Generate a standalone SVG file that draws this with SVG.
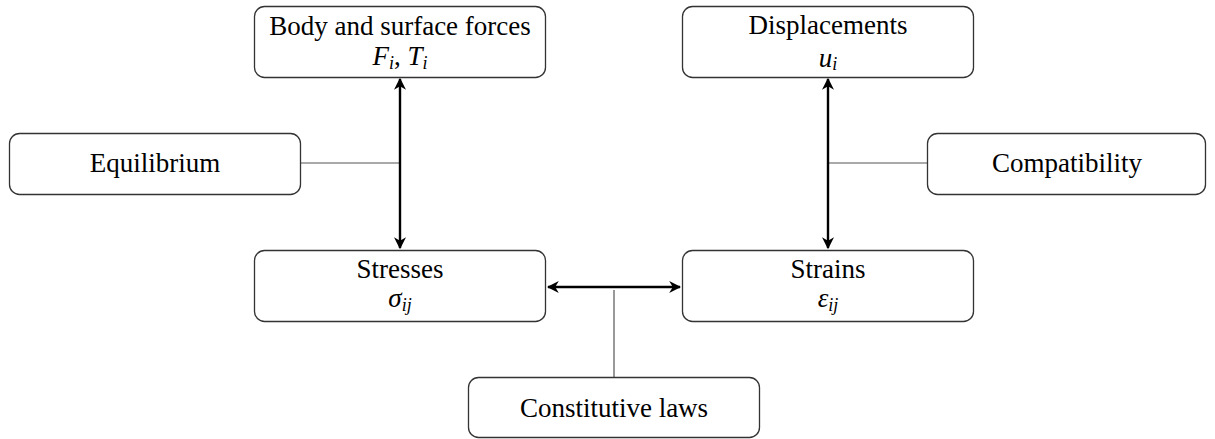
<svg xmlns="http://www.w3.org/2000/svg" width="1215" height="439" viewBox="0 0 1215 439">
<style>
.box{fill:#fff;stroke:#333;stroke-width:1.3}
text{font-family:'Liberation Serif','Times New Roman','DejaVu Serif',serif;font-size:27px;fill:#000;text-anchor:middle}
.m{font-style:italic}
.s{font-size:18px;font-style:italic}
.thin{stroke:#555;stroke-width:1.2;fill:none}
.thick{stroke:#000;stroke-width:2.4;fill:none}
</style>
<defs>
<marker id="ah" viewBox="0 0 10 10" refX="9" refY="5" markerWidth="5" markerHeight="5" orient="auto-start-reverse" markerUnits="strokeWidth">
<path d="M0,0 L10,5 L0,10 L3,5 Z" fill="#000"/>
</marker>
</defs>
<g id="connectors">
<line class="thin" x1="301" y1="163" x2="400" y2="163"/>
<line class="thin" x1="828" y1="163" x2="927" y2="163"/>
<line class="thin" x1="614" y1="290" x2="614" y2="377"/>
<line class="thick" x1="400" y1="79" x2="400" y2="248" marker-start="url(#ah)" marker-end="url(#ah)"/>
<line class="thick" x1="828" y1="79" x2="828" y2="248" marker-start="url(#ah)" marker-end="url(#ah)"/>
<line class="thick" x1="548" y1="287" x2="680" y2="287" marker-start="url(#ah)" marker-end="url(#ah)"/>
</g>
<g id="body">
<rect class="box" x="254.5" y="6.5" width="291" height="71" rx="10"/>
<text x="400" y="35">Body and surface forces</text>
<text x="400" y="65"><tspan class="m">F</tspan><tspan class="s" dy="4">i</tspan><tspan dy="-4">, </tspan><tspan class="m">T</tspan><tspan class="s" dy="4">i</tspan></text>
</g>
<g id="displacements">
<rect class="box" x="682.5" y="6.5" width="291" height="71" rx="10"/>
<text x="828" y="34">Displacements</text>
<text x="828" y="67"><tspan class="m">u</tspan><tspan class="s" dy="3">i</tspan></text>
</g>
<g id="equilibrium">
<rect class="box" x="9.5" y="133.5" width="291" height="61" rx="10"/>
<text x="155" y="172">Equilibrium</text>
</g>
<g id="compatibility">
<rect class="box" x="927.5" y="133.5" width="278" height="61" rx="10"/>
<text x="1067" y="172">Compatibility</text>
</g>
<g id="stresses">
<rect class="box" x="254.5" y="250.5" width="291" height="71" rx="10"/>
<text x="400" y="278">Stresses</text>
<text x="400" y="307"><tspan class="m">σ</tspan><tspan class="s" dy="4">ij</tspan></text>
</g>
<g id="strains">
<rect class="box" x="682.5" y="250.5" width="291" height="71" rx="10"/>
<text x="828" y="278">Strains</text>
<text x="828" y="307"><tspan class="m">ε</tspan><tspan class="s" dy="4">ij</tspan></text>
</g>
<g id="constitutive">
<rect class="box" x="468.5" y="377.5" width="291" height="60" rx="10"/>
<text x="614" y="417">Constitutive laws</text>
</g>
</svg>
